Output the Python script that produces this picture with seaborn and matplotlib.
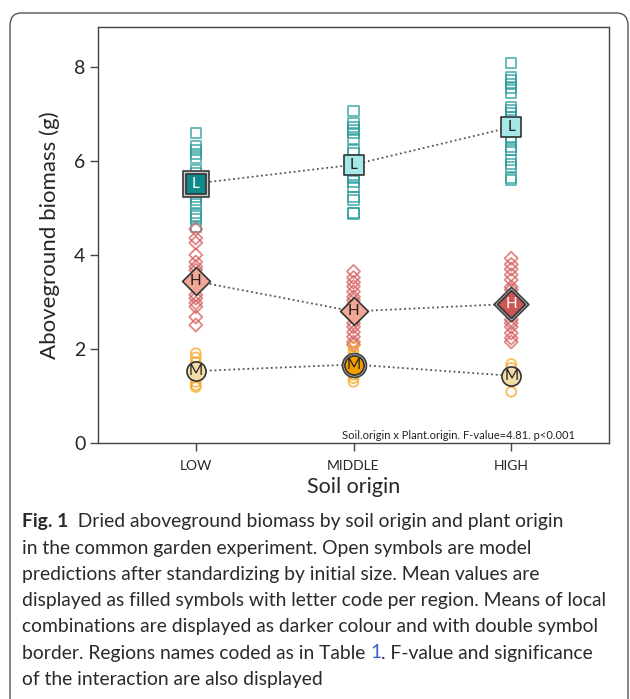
import matplotlib
matplotlib.use("Agg")
import matplotlib.pyplot as plt
from matplotlib.patches import FancyBboxPatch
import seaborn as sns
import pandas as pd

# --- data -------------------------------------------------------------
soil_levels = ["LOW", "MIDDLE", "HIGH"]
plant_codes = ["L", "H", "M"]

# model predictions (open symbols), per soil origin
pred_L = {
    "LOW": [6.59, 6.32, 6.23, 6.15, 6.06, 5.81, 5.74, 5.66, 5.45, 5.38, 5.23, 5.17, 5.09, 4.90, 4.83, 4.76, 4.59],
    "MIDDLE": [7.07, 6.80, 6.73, 6.66, 6.59, 6.46, 6.23, 6.16, 5.70, 5.64, 5.56, 5.45, 5.23, 5.17, 4.90, 4.88],
    "HIGH": [8.09, 7.79, 7.72, 7.64, 7.55, 7.45, 7.15, 7.09, 7.02, 6.94, 6.49, 6.41, 6.30, 6.23, 6.02, 5.94, 5.87, 5.64, 5.60],
}
pred_H = {
    "LOW": [4.55, 4.36, 4.26, 4.00, 3.85, 3.75, 3.68, 3.55, 3.30, 3.15, 3.08, 2.98, 2.90, 2.68, 2.51],
    "MIDDLE": [3.65, 3.52, 3.42, 3.33, 3.22, 3.11, 3.04, 2.95, 2.55, 2.47, 2.36, 2.26, 2.15, 2.09],
    "HIGH": [3.93, 3.80, 3.70, 3.58, 3.47, 3.32, 3.26, 3.15, 2.75, 2.62, 2.55, 2.47, 2.34, 2.23, 2.15],
}
pred_M = {
    "LOW": [1.91, 1.82, 1.72, 1.30, 1.23, 1.19],
    "MIDDLE": [2.05, 1.95, 1.85, 1.45, 1.38, 1.30],
    "HIGH": [1.68, 1.60, 1.30, 1.09],
}

# means per plant origin across soil origins
mean_L = [5.52, 5.92, 6.72]
mean_H = [3.44, 2.80, 2.96]
mean_M = [1.53, 1.67, 1.43]
local_soil = {"L": "LOW", "H": "HIGH", "M": "MIDDLE"}

note_text = "Soil.origin x Plant.origin. F-value=4.81. p<0.001"

# --- styling -----------------------------------------------------------
markers = {"L": "s", "H": "D", "M": "o"}
open_col = {"L": "#2a9d9d", "H": "#d65f5f", "M": "#f5a623"}
mean_light = {"L": "#a6e8e8", "H": "#f2a896", "M": "#f2dca8"}
mean_dark = {"L": "#0e8a8a", "H": "#cc5555", "M": "#f29e00"}
open_size = {"L": 55, "H": 44, "M": 50}
mean_size = {"L": 210, "H": 200, "M": 190}

sns.set_theme(style="white")
plt.rcParams["font.family"] = ["Lato", "DejaVu Sans"]
cap_font = ["Lato", "DejaVu Sans"]

rows = []
for code, pred in zip(plant_codes, [pred_L, pred_H, pred_M]):
    for soil in soil_levels:
        for v in pred[soil]:
            rows.append({"soil": soil, "x": soil_levels.index(soil), "plant": code, "biomass": v})
pred_df = pd.DataFrame(rows)

fig = plt.figure(figsize=(6.3, 6.99), dpi=100)
ax = fig.add_axes([98 / 630, 1 - 443 / 699, 511 / 630, 416 / 699])

# open symbols
for code in plant_codes:
    sub = pred_df[pred_df["plant"] == code]
    sns.scatterplot(data=sub, x="x", y="biomass", marker=markers[code], s=open_size[code],
                    facecolor="none", edgecolor=open_col[code], linewidth=1.3, alpha=0.75,
                    ax=ax, legend=False, zorder=2)

# dotted lines between means
xs = list(range(len(soil_levels)))
for code, means in zip(plant_codes, [mean_L, mean_H, mean_M]):
    ax.plot(xs, means, linestyle=(0, (1, 1.6)), color="#555555", linewidth=1.3, zorder=3)

# mean symbols
for code, means in zip(plant_codes, [mean_L, mean_H, mean_M]):
    for i, soil in enumerate(soil_levels):
        local = soil == local_soil[code]
        fill = mean_dark[code] if local else mean_light[code]
        if local:
            ax.scatter([i], [means[i]], marker=markers[code], s=mean_size[code] * 1.55,
                       facecolor="#c8c8c8", edgecolor="#444444", linewidth=1.3, zorder=4)
        ax.scatter([i], [means[i]], marker=markers[code], s=mean_size[code],
                   facecolor=fill, edgecolor="#333333", linewidth=1.2, zorder=5)
        txt_col = "white" if (local and code != "M") else "#222222"
        ax.text(i, means[i], code, ha="center", va="center", fontsize=11,
                color=txt_col, zorder=6)

ax.set_xlim(-0.62, 2.62)
ax.set_ylim(0, 8.85)
ax.set_xticks(xs)
ax.set_xticklabels(soil_levels, fontsize=10)
ax.set_yticks([0, 2, 4, 6, 8])
ax.tick_params(axis="y", labelsize=14, length=6, width=1, color="#444444", left=True, pad=3)
ax.tick_params(axis="x", length=6, width=1, color="#444444", bottom=True, pad=6)
ax.set_xlabel("Soil origin", fontsize=15.5, labelpad=4)
ax.set_ylabel("Aboveground biomass (g)", fontsize=16, labelpad=10)
for sp in ax.spines.values():
    sp.set_color("#444444")
    sp.set_linewidth(1)
ax.text(0.706, 0.004, note_text, transform=ax.transAxes, ha="center", va="bottom",
        fontsize=8, color="#222222")

# outer rounded frame
frame = FancyBboxPatch((10 / 630, -0.1), 618 / 630, 1.1 - 13 / 699,
                       boxstyle="round,pad=0,rounding_size=0.018",
                       transform=fig.transFigure, fill=False, edgecolor="#555555",
                       linewidth=1.0, clip_on=False)
fig.add_artist(frame)

# caption
txt = "#2a2a2a"
cap_lines = [
    [("Fig. 1", "bold", txt), ("  Dried aboveground biomass by soil origin and plant origin", "normal", txt)],
    [("in the common garden experiment. Open symbols are model", "normal", txt)],
    [("predictions after standardizing by initial size. Mean values are", "normal", txt)],
    [("displayed as filled symbols with letter code per region. Means of local", "normal", txt)],
    [("combinations are displayed as darker colour and with double symbol", "normal", txt)],
    [("border. Regions names coded as in Table ", "normal", txt), ("1", "normal", "#3366cc"),
     (". F-value and significance", "normal", txt)],
    [("of the interaction are also displayed", "normal", txt)],
]
fig.canvas.draw()
renderer = fig.canvas.get_renderer()
y0 = 522
for k, line in enumerate(cap_lines):
    xpx = 22
    ypx = y0 + k * 26.2
    for piece, weight, col in line:
        t = fig.text(xpx / 630, 1 - ypx / 699, piece, fontsize=13.9, fontweight=weight,
                     color=col, family=cap_font, ha="left", va="center")
        xpx += t.get_window_extent(renderer).width

fig.savefig("out.png", dpi=100)
